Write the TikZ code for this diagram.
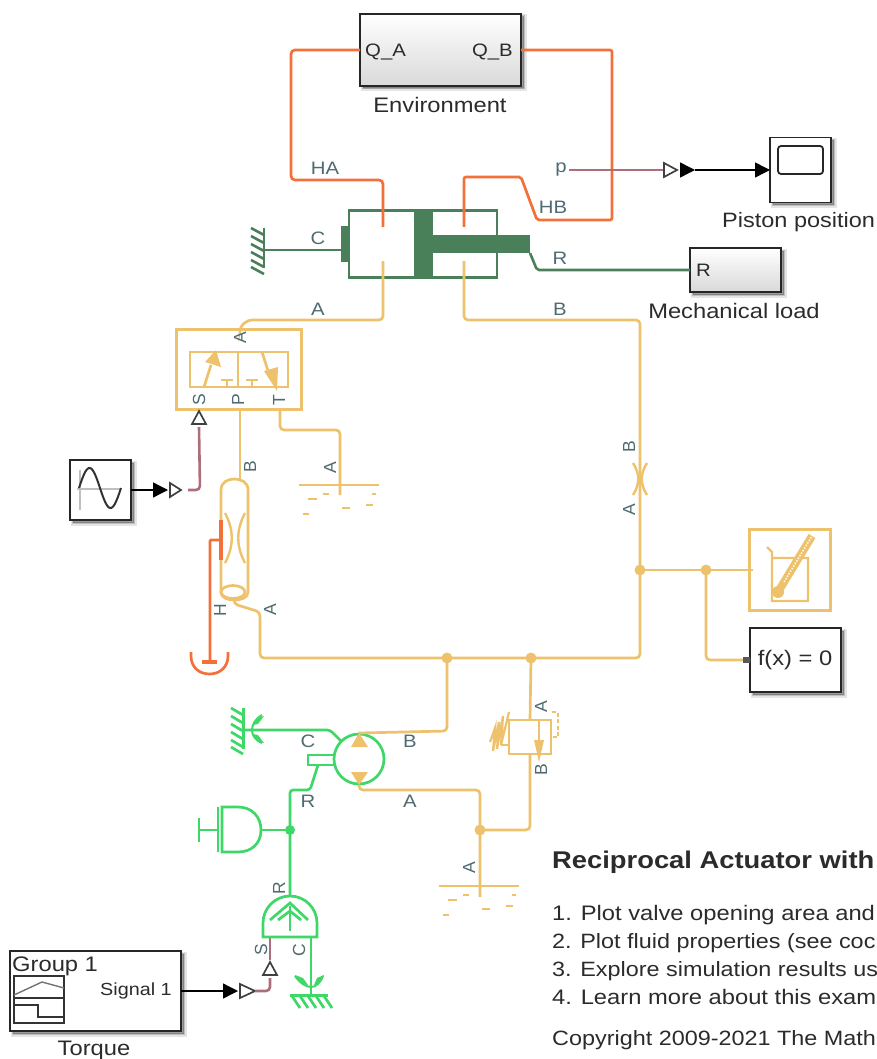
\documentclass[tikz,border=0pt]{standalone}
\usepackage{fontspec}
\setmainfont[FakeStretch=1.13]{Liberation Sans}
\newfontfamily\rotfont{Liberation Sans}
\usetikzlibrary{arrows.meta}
\definecolor{fluid}{HTML}{EEC26C}
\definecolor{heat}{HTML}{F4703A}
\definecolor{dgreen}{HTML}{4A8059}
\definecolor{bgreen}{HTML}{3FD768}
\definecolor{pinkw}{HTML}{AD6E7C}
\definecolor{portc}{HTML}{4F6A70}
\definecolor{txtc}{HTML}{2B2B2B}
\tikzset{
 x=1pt,y=-1pt,
 fluidw/.style={draw=fluid,line width=2.7pt,rounded corners=4pt},
 fluidn/.style={draw=fluid,line width=2.7pt},
 heatw/.style={draw=heat,line width=2.7pt,rounded corners=4pt},
 dgw/.style={draw=dgreen,line width=2.6pt,rounded corners=2pt},
 bgw/.style={draw=bgreen,line width=2.7pt,rounded corners=3pt},
 bgl/.style={draw=bgreen,line width=2.7pt},
 pinkwire/.style={draw=pinkw,line width=2.6pt,rounded corners=4pt},
 sigw/.style={draw=black,line width=1.4pt,-{Triangle[length=15pt,width=15pt]}},
 hollowtri/.style={draw=black!75,line width=1.7pt,fill=white,line join=miter},
 simshadow/.style={preaction={draw=black,draw opacity=.10,line width=5pt,fill=black,fill opacity=.15,transform canvas={xshift=3pt,yshift=-3pt}},
   preaction={draw=black,draw opacity=.16,line width=2pt,fill=black,fill opacity=.2,transform canvas={xshift=2.5pt,yshift=-2.5pt}}},
 simblock/.style={simshadow,draw=black!85,line width=1.7pt,fill=white,inner sep=0pt,outer sep=0pt},
 gradblock/.style={simshadow,draw=black!85,line width=1.7pt,top color=white,bottom color=black!15,inner sep=0pt,outer sep=0pt},
 btext/.style={text=txtc,inner sep=0pt,font=\fontsize{21}{21}\selectfont},
 portl/.style={text=portc,inner sep=0pt,font=\fontsize{18}{18}\selectfont},
 portr/.style={text=portc,inner sep=0pt,rotate=90,font=\rotfont\fontsize{17.5}{17.5}\selectfont},
 noteline/.style={text=txtc,inner sep=0pt,anchor=base west,font=\fontsize{21}{21}\selectfont},
 reservoir/.pic={
   \draw[fluidn] (-41,0) -- (39,0);
   \foreach \a/\b/\c in {-32/-23/14,-17/-11/9,-37/-31/29,2/10/23,26/33/20,32/36/9}
     \draw[fluidn] (\a,\c) -- (\b,\c);
 },
}
\begin{document}
\begin{tikzpicture}
\useasboundingbox (0,0) rectangle (877,1059);
% ---------- blocks
\node[gradblock,minimum width=161pt,minimum height=72pt] (env) at (440.5,50) {};
\node[gradblock,minimum width=91pt,minimum height=44pt] (load) at (735.5,270) {};
\node[simblock,minimum width=61pt,minimum height=65pt] (scope) at (800.5,170) {};
\node[simblock,minimum width=61pt,minimum height=60pt] (sine) at (100.5,490) {};
\node[simblock,minimum width=91pt,minimum height=64pt] (fx) at (795.5,660) {};
\node[simblock,minimum width=171pt,minimum height=80pt] (torque) at (95.5,991) {};
\node[draw=fluid,line width=3pt,minimum width=81pt,minimum height=81pt,inner sep=0pt,outer sep=0pt] (sensor) at (790,570) {};
\node[draw=fluid,line width=3pt,minimum width=125pt,minimum height=80pt,inner sep=0pt,outer sep=0pt] (valve) at (239,369) {};
\node[draw=dgreen,line width=2.6pt,minimum width=148pt,minimum height=67pt,inner sep=0pt,outer sep=0pt] (cyl) at (423,244) {};
\node[draw=bgreen,line width=2.7pt,circle,minimum size=50pt,inner sep=0pt,outer sep=0pt] (pump) at (359,759) {};
\node[draw=fluid,line width=2.7pt,minimum width=42pt,minimum height=34pt,inner sep=0pt,outer sep=0pt] (relief) at (530,737) {};

% ---------- ports
\coordinate (envA) at (env.west);
\coordinate (envB) at (env.east);
\coordinate (cylHA) at (383,227);
\coordinate (cylHB) at (464,227);
\coordinate (cylA) at (383,261);
\coordinate (cylB) at (464,261);
\coordinate (rodEnd) at (530,253);
\coordinate (cylC) at (341,250);
\coordinate (wallC) at (264,250);
\coordinate (valveA) at (240,329);
\coordinate (valveP) at (240,409);
\coordinate (valveT) at (280,409);
\coordinate (valveS) at (199,424);
\coordinate (pipeTop) at (240,479);
\coordinate (pipeA) at (234,600);
\coordinate (pipeH) at (221,540);
\coordinate (thermRef) at (210,662);
\coordinate (resT) at (340,495);
\coordinate (resB) at (480,897);
\coordinate (j1) at (640,570);
\coordinate (j2) at (706,570);
\coordinate (j3) at (531,658);
\coordinate (j4) at (447,658);
\coordinate (j5) at (480,830);
\coordinate (j6) at (290,830);
\coordinate (pumpB) at (359,733);
\coordinate (pumpA) at (359,785);
\coordinate (shaftR) at (318,765);
\coordinate (wall2) at (243,730);
\coordinate (domeTop) at (290,896);
\coordinate (domeS) at (270,937);
\coordinate (domeC) at (311,937);
\coordinate (wall3) at (311,995);

% ---------- thermal wires
\draw[heatw] (envA) -- (291,50) -- (291,180) -- (383,180) -- (cylHA);
\draw[heatw,rounded corners=2pt] (envB) -- (612,50) -- (612,220) -- (537,220) -- (521,177) -- (464,177) -- (cylHB);
\draw[heatw,rounded corners=1pt] (pipeH) -- (210,540) -- (thermRef);

% ---------- fluid wires
\draw[fluidw] (cylA) -- (383,320) -- (248,320) -- (240,327) -- (valveA);
\draw[fluidw] (cylB) -- (464,320) -- (640,320) -- (640,658) -- (260,658) -- (260,612) -- (234,604) -- (pipeA);
\draw[fluidn] (valveP) -- (pipeTop);
\draw[fluidw] (valveT) -- (280,430) -- (340,430) -- (resT);
\draw[fluidn] (j1) -- (j2);
\draw[fluidn] (j2) -- (753,570);
\draw[fluidw] (j2) -- (706,660) -- (fx.west);
\draw[fluidw] (j4) -- (447,731) -- (pumpB);
\draw[fluidw] (pumpA) -- (359,790) -- (480,790) -- (resB);
\draw[fluidw] (j5) -- (530,830) -- (530,754);
\draw[fluidn] (530,720) -- (j3);
% junctions
\foreach \p in {j1,j2,j3,j4,j5} \fill[fluid] (\p) circle[radius=5.5];
\fill[black!65] (743,657) rectangle (750,663);

% ---------- mechanical wires (cylinder)
\fill[dgreen] (414,210) rectangle (433,278);
\fill[dgreen] (433,235) rectangle (rodEnd);
\fill[dgreen] (341,226) rectangle (349,262);
\draw[dgw] (wallC) -- (cylC);
\draw[dgw] (rodEnd) -- (537,270) -- (load.west);
\draw[draw=dgreen,line width=2.7pt] (264,228) -- (264,268);
\foreach \y in {232,240,248,256,264,271}
  \draw[draw=dgreen,line width=2.6pt] (251,\y-4) -- (264,\y+3);

% re-draw port stubs over cylinder
\draw[draw=heat,line width=2.7pt] (383,205) -- (cylHA);
\draw[draw=heat,line width=2.7pt] (464,205) -- (cylHB);
\draw[draw=fluid,line width=2.7pt] (cylA) -- (383,285);
\draw[draw=fluid,line width=2.7pt] (cylB) -- (464,285);

% ---------- valve inner
\draw[fluidn] (190,352) rectangle (288,387);
\draw[fluidn] (238,352) -- (238,387);
\draw[fluidn] (227,387) -- (227,380) (221,380) -- (233,380);
\draw[fluidn] (252,387) -- (252,380) (246,380) -- (258,380);
\draw[fluidn] (204,387) -- (211,365);
\fill[fluid] (216,350) -- (221,367) -- (205,362) -- cycle;
\draw[fluidn] (262,352) -- (270,377);
\fill[fluid] (277,391) -- (264,371) -- (278,367) -- cycle;

% ---------- signal wires
\draw[sigw] (sine.east) -- (168,490);
\draw[hollowtri] (170,483) -- (181,490) -- (170,497) -- cycle;
\draw[pinkwire] (188,490) -- (200,490) -- (valveS |- 0,427);
\draw[hollowtri] (199,411) -- (206,424) -- (192,424) -- cycle;
\draw[pinkwire] (569,170) -- (663,170);
\draw[hollowtri] (664,163) -- (677,170) -- (664,177) -- cycle;
\draw[sigw] (680,170) -- (695,170);
\draw[sigw] (695,170) -- (scope.west);
\draw[sigw] (torque.east) -- (238,991);
\draw[hollowtri] (240,984) -- (255,991) -- (240,998) -- cycle;
\draw[pinkwire] (255,991) -- (270,991) -- (270,978);
\draw[hollowtri] (270,962) -- (277,975) -- (263,975) -- cycle;
\draw[pinkwire] (270,960) -- (domeS);

% ---------- pipe (thermal)
\draw[fluidn] (221,593) -- (221,490) .. controls (221,482) and (228,479) .. (234.5,479) .. controls (241,479) and (248,482) .. (248,490) -- (248,593);
\draw[fluidn] (233,592) ellipse[x radius=12,y radius=6.5];
\draw[fluidn] (221,593) .. controls (222,598) and (228,600) .. (234,600) .. controls (241,600) and (247,598) .. (248,593);
\draw[draw=fluid,line width=2.4pt] (225,513) .. controls (234,530) and (234,546) .. (225,563);
\draw[draw=fluid,line width=2.4pt] (245,513) .. controls (236,530) and (236,546) .. (245,563);
\draw[draw=heat,line width=3.2pt] (221,520) -- (221,560);
% thermal reference
\draw[draw=heat,line width=3.2pt] (202,662) -- (217,662);
\draw[draw=heat,line width=2.7pt] (191,652) -- (191,656) .. controls (191,667) and (199,674) .. (209.5,674) .. controls (220,674) and (228,667) .. (228,656) -- (228,652);

% ---------- reservoirs
\pic at (340,485) {reservoir};
\pic at (480,886) {reservoir};

% ---------- orifice
\draw[draw=fluid,line width=2.4pt] (633,463) .. controls (640,474) and (640,484) .. (633,495);
\draw[draw=fluid,line width=2.4pt] (647,463) .. controls (640,474) and (640,484) .. (647,495);

% ---------- sensor glyph
\draw[draw=fluid,line width=2.4pt] (767,547) -- (772,552) -- (772,601) -- (808,601) -- (808,558) -- (772,558);
\draw[draw=fluid,line width=8pt] (778,592) -- (812,536);
\draw[draw=white,line width=1.4pt,dash pattern=on 1.5pt off 1.5pt] (784,582) -- (812,536);
\fill[fluid] (778,592) circle[radius=6];

% ---------- relief valve
\draw[fluidn] (539,720) -- (539,745);
\fill[fluid] (539,762) -- (534,740) -- (544,740) -- cycle;
\draw[draw=fluid,line width=2.4pt,dash pattern=on 4pt off 2.5pt] (552,712) -- (558,712) -- (558,737) -- (551,737);
\draw[draw=fluid,line width=2.2pt] (509,712) -- (501,745) -- (503,716) -- (497,749) -- (499,722) -- (493,751) -- (495,728) -- (490,742);
\draw[draw=fluid,line width=2.2pt] (509,745) -- (501,745);

% ---------- pump
\fill[fluid] (359,733) -- (368,747) -- (351,747) -- cycle;
\fill[fluid] (359,785) -- (368,772) -- (351,772) -- cycle;
\draw[bgl] (308,755) rectangle (334,765);
\draw[bgw] (wall2) -- (330,730) -- (341,741);
\draw[bgw] (shaftR) -- (310,790) -- (290,790) -- (domeTop);
\draw[draw=bgreen,line width=3pt] (243,708) -- (243,749);
\foreach \y in {712,720,728,736,744,751}
  \draw[bgl] (231,\y-4) -- (243,\y+3);
\draw[draw=bgreen,line width=2pt] (262,715) .. controls (255,719) and (252,725) .. (252,730) .. controls (252,735) and (255,740) .. (262,743);
\fill[bgreen] (264,716) -- (258,724) -- (253,725) .. controls (254,720) and (258,717) .. (264,716) -- cycle;
\fill[bgreen] (264,743) -- (258,735) -- (253,734) .. controls (254,739) and (258,742) .. (264,743) -- cycle;

% inertia
\draw[bgl] (199,818) -- (199,842) (199,830) -- (218,830);
\draw[bgl] (218,807) -- (218,852);
\draw[bgl] (222,807) -- (238,807) .. controls (252,807) and (261,817) .. (261,830) .. controls (261,843) and (252,852) .. (238,852) -- (222,852) -- cycle;
\draw[bgl] (261,830) -- (j6);
\fill[bgreen] (j6) circle[radius=5];

% torque source
\draw[bgl] (263,937) -- (263,923) arc[start angle=180,end angle=360,radius=27] -- (317,937) -- cycle;
\draw[bgl] (290,931) -- (290,906);
\draw[bgl] (270,920) -- (290,903) -- (308,920);
\draw[bgl] (278,920) -- (290,911) -- (301,920);
\draw[bgl] (domeC) -- (wall3);
\draw[draw=bgreen,line width=3pt] (290,995) -- (328,995);
\foreach \x in {292,300,308,316,324}
  \draw[bgl] (\x,996) -- (\x+8,1008);
\draw[draw=bgreen,line width=2pt] (295,976) .. controls (300,983) and (306,987) .. (311,987) .. controls (316,987) and (320,983) .. (323,976);
\fill[bgreen] (295,975) -- (303,978) -- (308,985) .. controls (302,985) and (297,981) .. (295,975) -- cycle;
\fill[bgreen] (324,975) -- (317,978) -- (314,985) .. controls (319,985) and (323,981) .. (324,975) -- cycle;

% ---------- block icons
\draw[black!25,line width=1.4pt] (77,489) -- (121,489) (80,470) -- (80,510);
\draw[black!80,line width=2pt] plot[domain=0:1,smooth,samples=40] ({79+42*\x},{488-20*sin(360*\x)});
\draw[black!85,line width=1.8pt,rounded corners=3pt] (778,146) rectangle (823,174);
\draw[black!80,line width=1.5pt] (14,976) rectangle (64,1023);
\draw[black!80,line width=1.4pt] (14,998) -- (64,998);
\draw[black!55,line width=1.4pt] (14,995) -- (42,982) -- (64,988);
\draw[black!80,line width=1.4pt] (14,1005) -- (38,1005) -- (38,1017) -- (64,1017);

% ---------- block texts
\node[portl,text=txtc,anchor=west] (tQA) at (365,52) {Q\_A};
\node[portl,text=txtc,anchor=east] (tQB) at (513,52) {Q\_B};
\node[btext] (tEnv) at (440,105) {Environment};
\node[btext,anchor=west,font=\fontsize{20.8}{21}\selectfont] (tScope) at (722,222) {Piston position};
\node[portl,text=txtc,anchor=west] (tLoadR) at (696,270) {R};
\node[btext] (tLoad) at (734,311) {Mechanical load};
\node[btext] (tfx) at (795,660) {f(x) = 0};
\node[btext,anchor=west] (tGroup) at (12,966) {Group 1};
\node[text=txtc,inner sep=0pt,anchor=west,font=\fontsize{17.5}{17.5}\selectfont] (tSig) at (100,991) {Signal 1};
\node[btext] (tTorque) at (94,1050) {Torque};

% ---------- port labels
\node[portl] (pHA) at (325,168) {HA};
\node[portl] (pHB) at (553,207) {HB};
\node[portl] (pp) at (561,170) {p};
\node[portl] (pC) at (318,238) {C};
\node[portl] (pR) at (560,258) {R};
\node[portl] (pA) at (318,309) {A};
\node[portl] (pB) at (560,309) {B};
\node[portr] (vA) at (240,338) {A};
\node[portr] (vS) at (199,400) {S};
\node[portr] (vP) at (238,400) {P};
\node[portr] (vT) at (279,400) {T};
\node[portr] (rA1) at (330,468) {A};
\node[portr] (tB) at (250,467) {B};
\node[portr] (tH) at (220,610) {H};
\node[portr] (tA) at (270,610) {A};
\node[portr] (oB) at (629,447) {B};
\node[portr] (oA) at (629,510) {A};
\node[portr] (reA) at (541,707) {A};
\node[portr] (reB) at (541,770) {B};
\node[portr] (rA2) at (469,868) {A};
\node[portl] (mC) at (308,741) {C};
\node[portl] (mR) at (308,801) {R};
\node[portl] (mB) at (410,741) {B};
\node[portl] (mA) at (410,801) {A};
\node[portr] (dR) at (279,888) {R};
\node[portr] (dS) at (261,950) {S};
\node[portr] (dC) at (299,950) {C};

% ---------- annotation
\node[noteline,font=\bfseries\fontsize{24.2}{24.2}\selectfont] (title) at (552,868) {Reciprocal Actuator with};
\node[noteline] (n1) at (552,920) {1. Plot valve opening area and};
\node[noteline,font=\fontsize{20.7}{21}\selectfont] (n2) at (552,948) {2. Plot fluid properties (see coc};
\node[noteline,font=\fontsize{20.7}{21}\selectfont] (n3) at (552,976) {3. Explore simulation results us};
\node[noteline] (n4) at (552,1004) {4. Learn more about this exam};
\node[noteline,font=\fontsize{20.7}{21}\selectfont] (n5) at (552,1045) {Copyright 2009-2021 The Math};
\end{tikzpicture}
\end{document}
